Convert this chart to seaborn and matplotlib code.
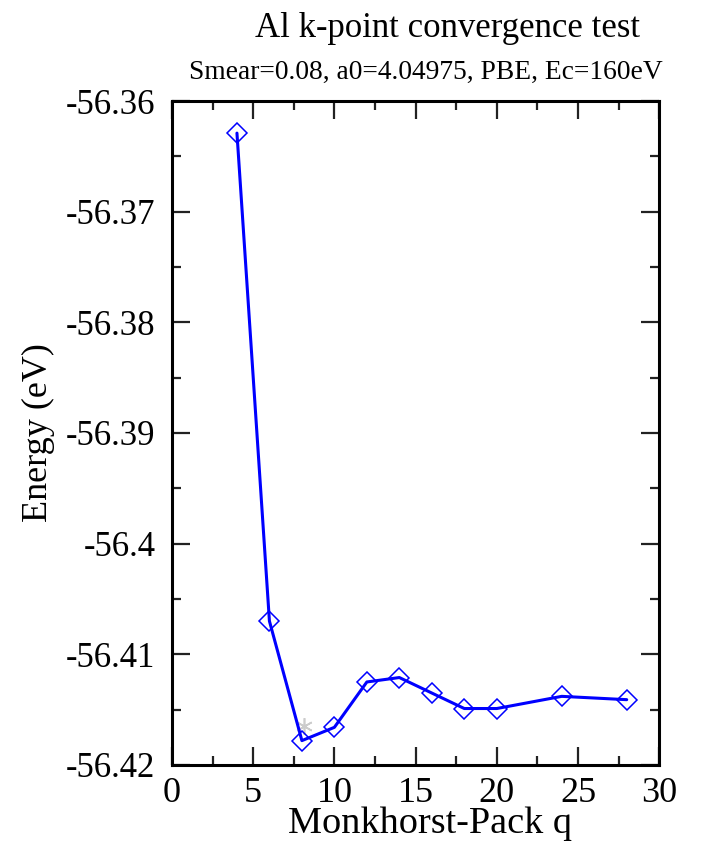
import matplotlib
matplotlib.use("Agg")
import matplotlib.pyplot as plt
import seaborn as sns
import pandas as pd
from matplotlib.ticker import MultipleLocator

# k-point mesh size (Monkhorst-Pack q) and total energy (eV)
q_values = [4, 6, 8, 10, 12, 14, 16, 18, 20, 24, 28]
energies = [-56.3629, -56.4070, -56.4178, -56.4166, -56.4125, -56.4121,
            -56.4135, -56.4149, -56.4149, -56.4138, -56.4141]

# stray reference point near q=8
extra_q = [8.1]
extra_e = [-56.4165]

x_ticks = [0, 5, 10, 15, 20, 25, 30]
x_tick_labels = ["0", "5", "10", "15", "20", "25", "30"]
y_ticks = [-56.36, -56.37, -56.38, -56.39, -56.40, -56.41, -56.42]
y_tick_labels = ["-56.36", "-56.37", "-56.38", "-56.39", "-56.4", "-56.41", "-56.42"]

df = pd.DataFrame({"q": q_values, "E": energies})

sns.set_theme(style="white")
plt.rcParams["font.family"] = ["Liberation Serif", "DejaVu Serif"]
plt.rcParams["text.color"] = "black"
plt.rcParams["axes.labelcolor"] = "black"
plt.rcParams["xtick.labelcolor"] = "black"
plt.rcParams["ytick.labelcolor"] = "black"

fig = plt.figure(figsize=(7.02, 8.42), dpi=100)
ax = fig.add_axes([0.245, 0.0915, 0.694, 0.7885])

sns.lineplot(data=df, x="q", y="E", ax=ax, color="#0000ff", lw=2.2,
             marker="D", markersize=10, markerfacecolor="none",
             markeredgecolor="#0000ff", markeredgewidth=1.1)
ax.plot(extra_q, extra_e, linestyle="none", marker=(6, 2, 0), markersize=12,
        color="#cccccc", markeredgewidth=1.2, zorder=1)

ax.set_xlim(0, 30)
ax.set_ylim(-56.42, -56.36)
ax.set_xticks(x_ticks)
ax.set_xticklabels(x_tick_labels)
ax.set_yticks(y_ticks)
ax.set_yticklabels(y_tick_labels)
ax.xaxis.set_minor_locator(MultipleLocator(2.5))
ax.yaxis.set_minor_locator(MultipleLocator(0.005))

ax.tick_params(which="both", direction="in", top=True, right=True,
               bottom=True, left=True, color="#222222", width=1.6,
               labelcolor="black")
ax.tick_params(which="major", length=13)
ax.tick_params(which="minor", length=6.5)
ax.tick_params(axis="x", which="major", labelsize=26, pad=9)
ax.tick_params(axis="y", which="major", labelsize=25, pad=12)

for sp in ax.spines.values():
    sp.set_linewidth(2.2)
    sp.set_color("black")

ax.set_xlabel("Monkhorst-Pack q", fontsize=27.5, color="black")
ax.xaxis.set_label_coords(0.53, -0.062)
ax.set_ylabel("Energy (eV)", fontsize=26, color="black")
ax.yaxis.set_label_coords(-0.24, 0.5)

fig.text(0.638, 0.966, "Al k-point convergence test", ha="center", va="center",
         fontsize=25, color="black")
fig.text(0.606, 0.914, "Smear=0.08, a0=4.04975, PBE, Ec=160eV", ha="center",
         va="center", fontsize=19.8, color="black")

fig.savefig("out.png", dpi=100, facecolor="white")
